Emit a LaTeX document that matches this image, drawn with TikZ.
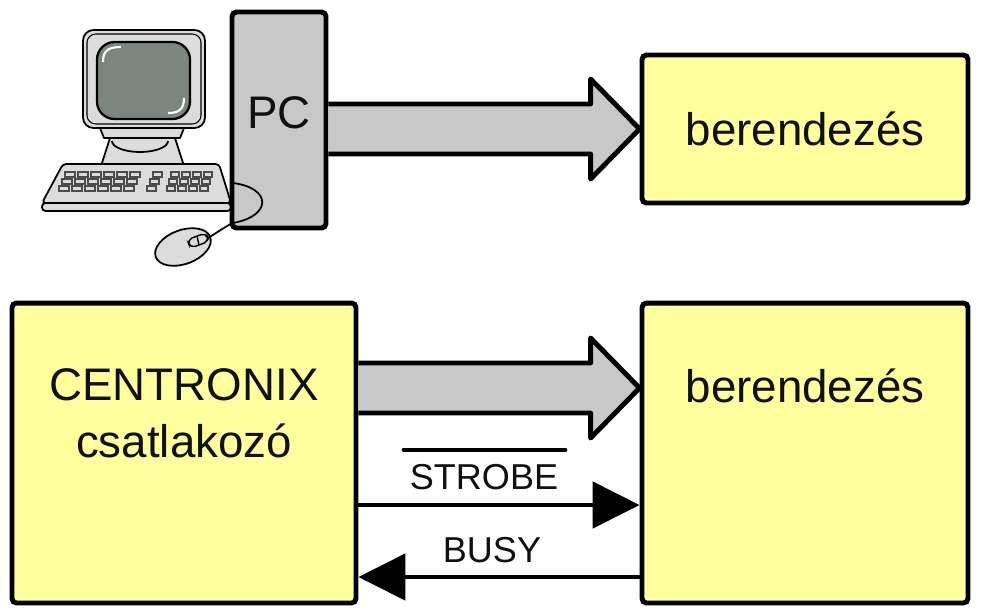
\documentclass[tikz,border=0pt]{standalone}
\usepackage{fontspec}
\setmainfont{Liberation Sans}
\usepackage{xcolor}
\definecolor{boxYellow}{HTML}{FFFF9E}
\definecolor{pcGray}{HTML}{C8C8C8}
\definecolor{partGray}{HTML}{DCDCDC}
\definecolor{screenGray}{HTML}{7C867E}
\definecolor{inkBlack}{HTML}{101010}
\usetikzlibrary{arrows.meta,calc,positioning}

\tikzset{
  box/.style={draw, line width=2.8pt, rounded corners=2.5pt, fill=boxYellow, text=inkBlack},
  pcbox/.style={draw, line width=2.8pt, rounded corners=2.5pt, fill=pcGray, text=inkBlack,
    minimum width=1.88cm, minimum height=4.32cm, text depth=0.28cm, font=\fontsize{26}{30}\selectfont},
  lbl/.style={inner sep=0pt, align=center, text=inkBlack, font=\fontsize{26}{32}\selectfont},
  siglbl/.style={inner sep=0pt, text=inkBlack, font=\fontsize{20.5}{24}\selectfont},
  fatarrow/.style={draw, line width=2.8pt, line join=round, fill=pcGray},
  sig/.style={line width=2.8pt, -{Triangle[length=0.94cm, width=0.92cm]}},
  part/.style={draw, line width=1pt, fill=partGray, line join=round},
  key/.style={draw=black!70, line width=0.6pt, fill=partGray},
}

\begin{document}
\begin{tikzpicture}[x=0.02cm, y=-0.02cm]
  \useasboundingbox (0,0) rectangle (981,610);

  % monitor
  \draw[part, rounded corners=6] (83,30) rectangle (205,128);
  \draw[line width=0.6pt, rounded corners=5] (87,34) rectangle (201,124);
  \draw[part, fill=screenGray, line width=1.3pt, rounded corners=10] (97,42) rectangle (190,119);
  \draw[white, line width=1.2pt] (103,62) .. controls (103,50) and (109,47) .. (121,47);
  \draw[white, line width=1.2pt] (184,98) .. controls (184,110) and (178,113) .. (168,113);
  \draw[part] (100,128) -- (184,128) -- (180,138) -- (104,138) -- cycle;
  \draw[part] (110,138) -- (175,138) -- (184,166) -- (101,166) -- cycle;
  \draw[line width=1pt] (112,141) arc[start angle=180, end angle=0, x radius=28, y radius=11];

  % keyboard
  \draw[part, rounded corners=2] (63,164) -- (219,164) -- (231,203) -- (42,203) -- cycle;
  \draw[part, rounded corners=2] (42,203) -- (231,203) -- (231,211) -- (42,211) -- cycle;
  \foreach \r in {0,1,2} {
    \foreach \c in {0,...,5}
      \draw[key] (65+\c*13-\r*3,172+\r*7) rectangle ++(10,5);
    \draw[key] (153-\r*3,172+\r*7) rectangle ++(9,5);
    \foreach \c in {0,...,3}
      \draw[key] (171+\c*11-\r*2,172+\r*7) rectangle ++(8,5);
  }

  % mouse
  \draw[part, rotate around={20:(183,247)}] (183,247) ellipse [x radius=29, y radius=17];
  \draw[line width=0.8pt, rotate around={20:(198,240)}, rounded corners=3] (188,236) rectangle (208,245);
  \draw[line width=0.8pt] (197,236) -- (199,245);

  % blocks
  \node[pcbox] (pc) at (279,120) {PC};
  \node[box, minimum width=6.52cm, minimum height=2.96cm, font=\fontsize{26}{30}\selectfont] (dev1) at (805,129) {berendezés};
  \node[box, minimum width=6.88cm, minimum height=6cm] (cen) at (184,453) {};
  \node[box, minimum width=6.52cm, minimum height=6cm] (dev2) at (805,453) {};
  \node[lbl, below=1.36cm of cen.north] (centxt) {CENTRONIX\\csatlakozó};
  \node[lbl, below=1.36cm of dev2.north] (devtxt) {berendezés};

  % mouse cable
  \draw[line width=1pt] (208,238) .. controls (218,232) and (226,226) .. (233,223)
    .. controls (272,216) and (272,188) .. (233,183);

  % data bus arrows
  \coordinate (t0) at (pc.east |- dev1.west);
  \draw[fatarrow] ($(t0)+(0,-25)$) -- ($(dev1.west)+(-49,-25)$) -- ($(dev1.west)+(-49,-50)$)
    -- (dev1.west) -- ($(dev1.west)+(-49,50)$) -- ($(dev1.west)+(-49,25)$) -- ($(t0)+(0,25)$);
  \coordinate (m0) at (cen.east |- 0,388);
  \coordinate (m1) at (dev2.west |- 0,388);
  \draw[fatarrow] ($(m0)+(0,-25)$) -- ($(m1)+(-49,-25)$) -- ($(m1)+(-49,-50)$)
    -- (m1) -- ($(m1)+(-49,50)$) -- ($(m1)+(-49,25)$) -- ($(m0)+(0,25)$);

  % handshake lines
  \draw[sig] (cen.east |- 0,505) -- (dev2.west |- 0,505);
  \draw[sig] (dev2.west |- 0,577) -- (cen.east |- 0,577);
  \node[siglbl] (strobe) at (484,477) {STROBE};
  \draw[line width=2.3pt, line cap=round] ($(strobe.north west)+(-6,-14)$) -- ($(strobe.north east)+(7,-14)$);
  \node[siglbl] (busy) at (492,550) {BUSY};
\end{tikzpicture}
\end{document}
